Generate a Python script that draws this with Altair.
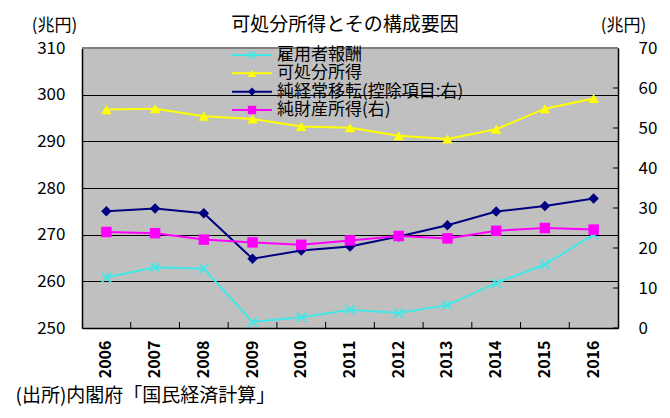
import altair as alt
import pandas as pd

years = ["2006", "2007", "2008", "2009", "2010", "2011", "2012", "2013", "2014", "2015", "2016"]
compensation = [260.8, 263.0, 262.7, 251.3, 252.3, 253.9, 253.2, 254.9, 259.6, 263.6, 270.0]
disposable = [296.8, 297.0, 295.4, 294.8, 293.2, 292.9, 291.2, 290.5, 292.6, 297.0, 299.2]
transfers = [29.2, 29.9, 28.7, 17.3, 19.4, 20.4, 22.9, 25.7, 29.1, 30.5, 32.4]
property_income = [24.0, 23.7, 22.1, 21.4, 20.8, 21.9, 23.0, 22.4, 24.3, 25.0, 24.6]

names = ["雇用者報酬", "可処分所得", "純経常移転(控除項目:右)", "純財産所得(右)"]
colors = ["#40E8E8", "#FFFF00", "#000080", "#FF00FF"]
left_ticks = [250, 260, 270, 280, 290, 300, 310]
right_ticks = [0, 10, 20, 30, 40, 50, 60, 70]

title_text = "可処分所得とその構成要因"
unit_text = "(兆円)"
source_text = "(出所)内閣府「国民経済計算」"

FONT = "Noto Sans CJK JP"

x_path = ("M-1,-0.75L-0.75,-1L0,-0.25L0.75,-1L1,-0.75L0.25,0L1,0.75L0.75,1"
          "L0,0.25L-0.75,1L-1,0.75L-0.25,0Z")
marker_shapes = [x_path, "triangle-up", "diamond", "square"]

rows = []
for name, vals in zip(names, [compensation, disposable, transfers, property_income]):
    for y, v in zip(years, vals):
        rows.append({"year": y, "series": name, "value": v})
df = pd.DataFrame(rows)
left_df = df[df["series"].isin(names[:2])]
right_df = df[df["series"].isin(names[2:])]

W, H = 536, 280

xscale = alt.Scale(type="band", domain=years, paddingInner=0, paddingOuter=0)
yl_scale = alt.Scale(domain=[250, 310], nice=False, zero=False)
yr_scale = alt.Scale(domain=[0, 70], nice=False, zero=False)
cscale = alt.Scale(domain=names, range=colors)
shscale = alt.Scale(domain=names, range=marker_shapes)

x_axis = alt.Axis(
    labelAngle=-90, labelFontSize=16, labelFontWeight="bold", labelFont=FONT,
    labelColor="black", labelPadding=12, ticks=False, domainColor="black",
    domainWidth=1.5, grid=False,
    title=source_text, titleFont=FONT, titleFontSize=19, titleFontWeight="normal",
    titleColor="black", titleX=-67, titleY=67, titleAlign="left",
    titleBaseline="middle",
)

yl_axis = alt.Axis(
    orient="left", values=left_ticks, labelFontSize=17, labelFont=FONT,
    labelColor="black", labelPadding=17, ticks=False, domainColor="black",
    domainWidth=1.5, grid=True, gridColor="black", gridWidth=1, gridOpacity=1,
    title=unit_text, titleAngle=0, titleX=-28, titleY=-23, titleAlign="center",
    titleBaseline="middle", titleFont=FONT, titleFontSize=17, titleFontWeight="normal",
    titleColor="black",
)

yr_axis = alt.Axis(
    orient="right", values=right_ticks, labelFontSize=17, labelFont=FONT,
    labelColor="black", labelPadding=20, ticks=False, domainColor="black",
    domainWidth=1.5, grid=False,
    title=unit_text, titleAngle=0, titleX=5, titleY=-23, titleAlign="center",
    titleBaseline="middle", titleFont=FONT, titleFontSize=17, titleFontWeight="normal",
    titleColor="black",
)


def xenc(band=0.5):
    return alt.X("year:O", scale=xscale, axis=x_axis, bandPosition=band)


# band-boundary ticks on the x axis (pointing inward)
xtick_df = pd.DataFrame({"year": years[1:]})
x_ticks = alt.Chart(xtick_df).mark_rule(color="black", strokeWidth=1).encode(
    x=xenc(0),
    y=alt.value(H - 6),
    y2=alt.value(H),
)

# gray top frame line
frame_df = pd.DataFrame({"k": [0]})
top_frame = alt.Chart(frame_df).mark_rule(color="#808080", strokeWidth=2).encode(
    x=alt.value(0), x2=alt.value(W), y=alt.value(0)
)

# left-axis series
left_lines = alt.Chart(left_df).mark_line(strokeWidth=2).encode(
    x=xenc(),
    y=alt.Y("value:Q", scale=yl_scale, axis=yl_axis),
    color=alt.Color("series:N", scale=cscale, legend=None),
    detail="series:N",
)
left_points = alt.Chart(left_df).mark_point(filled=True, size=110, opacity=1).encode(
    x=xenc(),
    y=alt.Y("value:Q", scale=yl_scale, axis=None),
    color=alt.Color("series:N", scale=cscale, legend=None),
    shape=alt.Shape("series:N", scale=shscale, legend=None),
)

# right-axis series
right_lines = alt.Chart(right_df).mark_line(strokeWidth=2).encode(
    x=xenc(),
    y=alt.Y("value:Q", scale=yr_scale, axis=yr_axis),
    color=alt.Color("series:N", scale=cscale, legend=None),
    detail="series:N",
)
right_points = alt.Chart(right_df).mark_point(filled=True, size=110, opacity=1).encode(
    x=xenc(),
    y=alt.Y("value:Q", scale=yr_scale, axis=None),
    color=alt.Color("series:N", scale=cscale, legend=None),
    shape=alt.Shape("series:N", scale=shscale, legend=None),
)
rtick_df = pd.DataFrame({"value": right_ticks})
r_ticks = alt.Chart(rtick_df).mark_rule(color="black", strokeWidth=1).encode(
    y=alt.Y("value:Q", scale=yr_scale, axis=None),
    x=alt.value(W - 5),
    x2=alt.value(W),
)

# legend drawn inside the plot
legend_df = pd.DataFrame({"series": names})
leg_y = alt.Scale(type="point", domain=names, range=[7, 62], padding=0)
leg_lines = alt.Chart(legend_df).mark_rule(strokeWidth=2).encode(
    x=alt.value(150), x2=alt.value(190),
    y=alt.Y("series:N", scale=leg_y, axis=None),
    color=alt.Color("series:N", scale=cscale, legend=None),
)
leg_points = alt.Chart(legend_df).mark_point(filled=True, size=70, opacity=1).encode(
    x=alt.value(170),
    y=alt.Y("series:N", scale=leg_y, axis=None),
    color=alt.Color("series:N", scale=cscale, legend=None),
    shape=alt.Shape("series:N", scale=shscale, legend=None),
)
leg_text = alt.Chart(legend_df).mark_text(
    align="left", baseline="middle", fontSize=17, font=FONT, color="black"
).encode(
    x=alt.value(195),
    y=alt.Y("series:N", scale=leg_y, axis=None),
    text="series:N",
)

# chart title
title_df = pd.DataFrame({"t": [title_text]})
title_mark = alt.Chart(title_df).mark_text(
    align="center", baseline="middle", fontSize=19, font=FONT, color="black"
).encode(x=alt.value(W / 2 - 5), y=alt.value(-23), text="t:N")

chart = alt.layer(
    x_ticks, left_lines, left_points, right_lines, right_points, r_ticks,
    top_frame, leg_lines, leg_points, leg_text, title_mark,
).resolve_scale(
    y="independent"
).properties(
    width=W, height=H,
    autosize=alt.AutoSizeParams(type="none"),
    padding={"left": 74, "top": 40, "right": 44, "bottom": 82},
).configure(
    background="white", font=FONT,
    view=alt.ViewConfig(fill="#C0C0C0", stroke="transparent"),
)

chart.save("out.html", embed_options={"renderer": "svg", "actions": False})
